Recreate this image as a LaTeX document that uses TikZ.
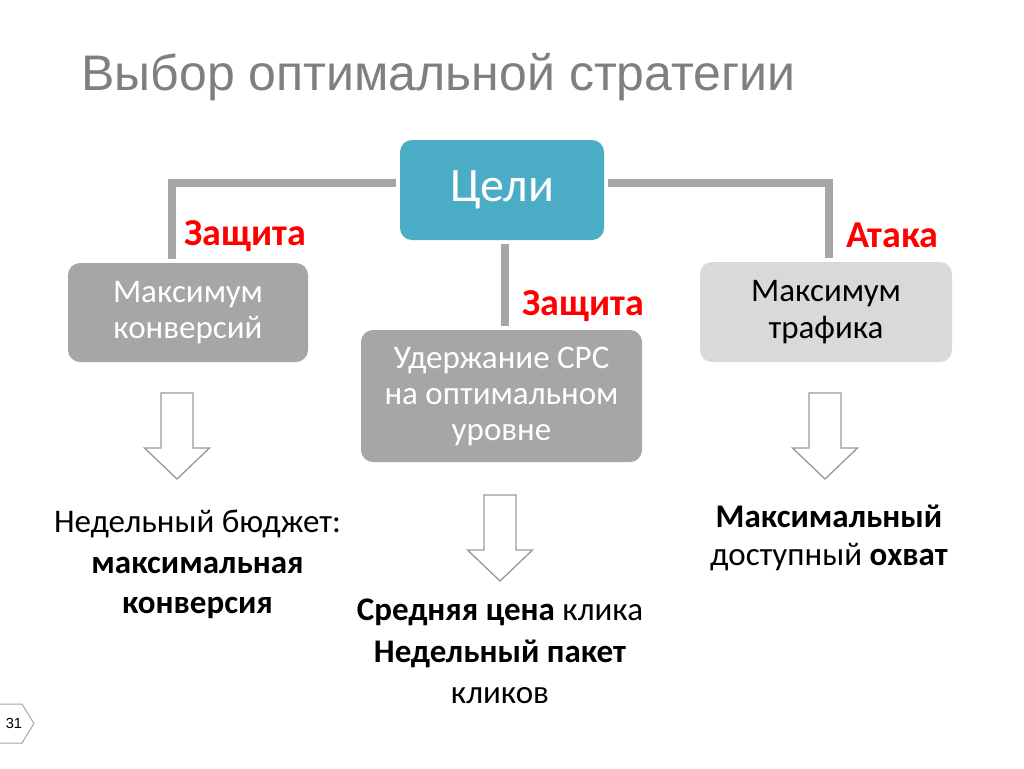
\documentclass[tikz,border=0pt]{standalone}
\usepackage{fontspec}
\setmainfont{Carlito}
\newfontfamily\titlefont{Liberation Sans}
\definecolor{goalblue}{HTML}{4BACC6}
\definecolor{boxgray}{HTML}{A6A6A6}
\definecolor{lightbox}{HTML}{D9D9D9}
\definecolor{titlegray}{HTML}{7F7F7F}
\definecolor{arrowgray}{HTML}{9A9A9A}
\tikzset{
	goalbox/.style={rounded corners=9pt, fill=goalblue, text=white, inner sep=0pt, font=\fontsize{36}{40}\selectfont},
	darkbox/.style={rounded corners=9pt, fill=boxgray, text=white, inner sep=0pt, align=center, font=\fontsize{24.75}{27.5}\selectfont},
	lightgoal/.style={darkbox, fill=lightbox, text=black},
	link/.style={line width=6pt, boxgray, shorten <=3pt, shorten >=3pt},
	tag/.style={text=red, inner sep=0pt, anchor=base west, font=\bfseries\fontsize{28.5}{32}\selectfont},
	result/.style={inner sep=0pt, anchor=base, font=\fontsize{24.75}{30}\selectfont}
}
\begin{document}
\begin{tikzpicture}[x=0.75pt,y=-0.75pt]
		\useasboundingbox (0,0) rectangle (1024,768);
		%title
			\node[anchor=base west, inner sep=0pt, text=titlegray, font=\titlefont\fontsize{37.5}{40}\selectfont] (title) at (81,90) {Выбор оптимальной стратегии};
		%boxes
			\node[goalbox, minimum width=153pt, minimum height=75pt] (goals) at (502,190) {Цели};
			\node[darkbox, minimum width=180pt, minimum height=74.25pt] (conv) at (188,312.5) {Максимум\\конверсий};
			\node[darkbox, minimum width=210.75pt, minimum height=99pt, font=\fontsize{24.75}{27}\selectfont] (cpc) at (501.5,396) {Удержание CPC\\на оптимальном\\уровне};
			\node[lightgoal, minimum width=189pt, minimum height=75pt] (traffic) at (826,312) {Максимум\\трафика};
		%connectors + labels
			\draw[link] ([yshift=5.25pt]goals.west) -| ([xshift=-12pt]conv.north);
			\draw[link] ([yshift=5.25pt]goals.east) -| ([xshift=2.25pt]traffic.north);
			\draw[link] ([xshift=2.25pt]goals.south) -- ([xshift=2.25pt]goals.south |- cpc.north);
			\node[tag] (defl) at (184,245) {Защита};
			\node[tag] (defm) at (522,315) {Защита};
			\node[tag] (att) at (846,247) {Атака};
		%down arrows
			\foreach \cx/\ty in {177/393, 500/495, 825/393}
				\draw[arrowgray, line width=1pt, fill=white] (\cx-16,\ty) -- (\cx+16,\ty) -- (\cx+16,\ty+55) -- (\cx+32.5,\ty+55) -- (\cx,\ty+86) -- (\cx-32.5,\ty+55) -- (\cx-16,\ty+55) -- cycle;
		%results
			\node[result] (convA) at (197.5,532) {Недельный бюджет:};
			\node[result] (convB) at (197.5,573) {\textbf{максимальная}};
			\node[result] (convC) at (197.5,613) {\textbf{конверсия}};
			\node[result] (cpcA) at (500,620) {\textbf{Средняя цена} клика};
			\node[result] (cpcB) at (500,662) {\textbf{Недельный пакет}};
			\node[result] (cpcC) at (500,703) {кликов};
			\node[result] (trafA) at (829,527) {\textbf{Максимальный}};
			\node[result] (trafB) at (829,565) {доступный \textbf{охват}};
		%page number
			\draw[boxgray, line width=0.75pt] (0,704) -- (22,704) -- (34,723.5) -- (22,743) -- (0,743);
			\node[font=\titlefont\fontsize{11}{12}\selectfont, inner sep=0pt] (page) at (14,723.5) {31};
	\end{tikzpicture}
\end{document}
